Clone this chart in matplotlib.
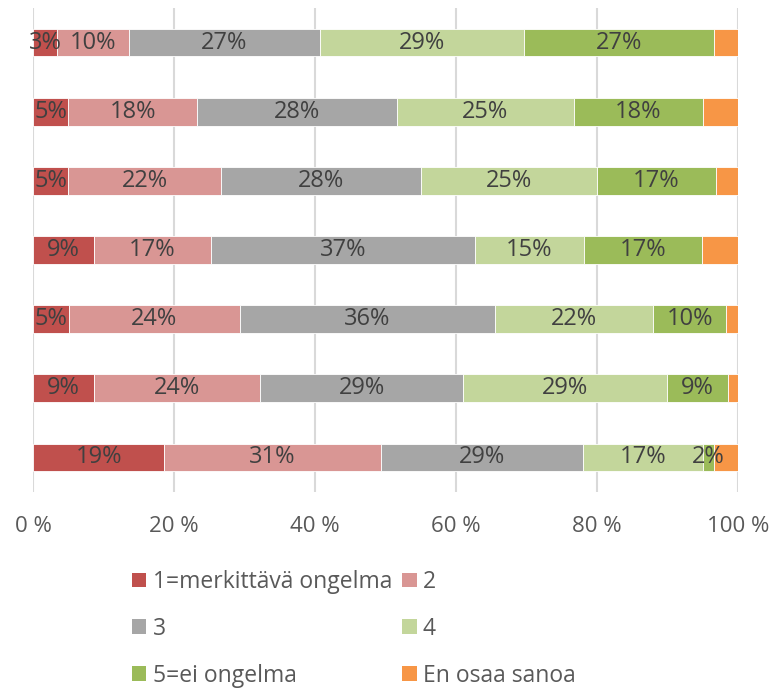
import matplotlib
matplotlib.use("Agg")
import matplotlib.pyplot as plt
from matplotlib.patches import Patch
import numpy as np

plt.rcParams['font.family'] = ['Open Sans', 'DejaVu Sans']

series_names = ["1=merkittävä ongelma", "2", "3", "4", "5=ei ongelma", "En osaa sanoa"]
colors = ["#C0504D", "#D99694", "#A6A6A6", "#C3D69B", "#9BBB59", "#F79646"]

# rows top to bottom, values in percent
s1 = [3.4, 5.0, 5.0, 8.6, 5.1, 8.6, 18.6]
s2 = [10.2, 18.3, 21.7, 16.7, 24.2, 23.6, 30.7]
s3 = [27.1, 28.3, 28.3, 37.4, 36.2, 28.8, 28.7]
s4 = [28.9, 25.1, 25.0, 15.4, 22.4, 28.9, 17.0]
s5 = [27.0, 18.3, 16.8, 16.8, 10.4, 8.6, 1.6]
s6 = [3.4, 5.0, 3.2, 5.1, 1.7, 1.5, 3.4]
series = [s1, s2, s3, s4, s5, s6]
labelled = [True, True, True, True, True, False]
xticks = [0, 20, 40, 60, 80, 100]
xticklabels = ["0 %", "20 %", "40 %", "60 %", "80 %", "100 %"]

fig = plt.figure(figsize=(7.75, 6.89), dpi=100)
ax = fig.add_axes([33/775, 1-492/689, (738.3-33)/775, 484/689])

n = len(s1)
y = np.arange(n)
left = np.zeros(n)
handles = []
for vals, c, name, lab in zip(series, colors, series_names, labelled):
    vals = np.array(vals)
    ax.barh(y, vals, left=left, height=0.4, color=c, edgecolor="white",
            linewidth=0.6, zorder=3)
    if lab:
        for yi, v, l in zip(y, vals, left):
            ax.text(l + v/2, yi, f"{v:.0f}%", ha="center", va="center",
                    fontsize=17, color="#404040", zorder=4)
    left += vals
    handles.append(Patch(facecolor=c, edgecolor="none", label=name))

ax.set_xlim(0, 100)
ax.set_ylim(n - 0.5, -0.5)
ax.set_xticks(xticks)
ax.set_xticklabels(xticklabels, fontsize=16, color="#595959")
ax.set_yticks([])
ax.tick_params(axis="x", length=0, pad=17)
ax.grid(axis="x", color="#D9D9D9", linewidth=1.5, zorder=0)
for sp in ax.spines.values():
    sp.set_visible(False)

order = [0, 2, 4, 1, 3, 5]
leg = fig.legend([handles[i] for i in order], [series_names[i] for i in order],
                 ncol=2, loc="upper left", bbox_to_anchor=(132/775, 1-570/689),
                 frameon=False, fontsize=16.5, handlelength=0.62, handleheight=0.62,
                 handletextpad=0.28, columnspacing=0.45, labelspacing=1.0,
                 borderpad=0, borderaxespad=0)
for t in leg.get_texts():
    t.set_color("#595959")

fig.savefig("out.png", dpi=100)
